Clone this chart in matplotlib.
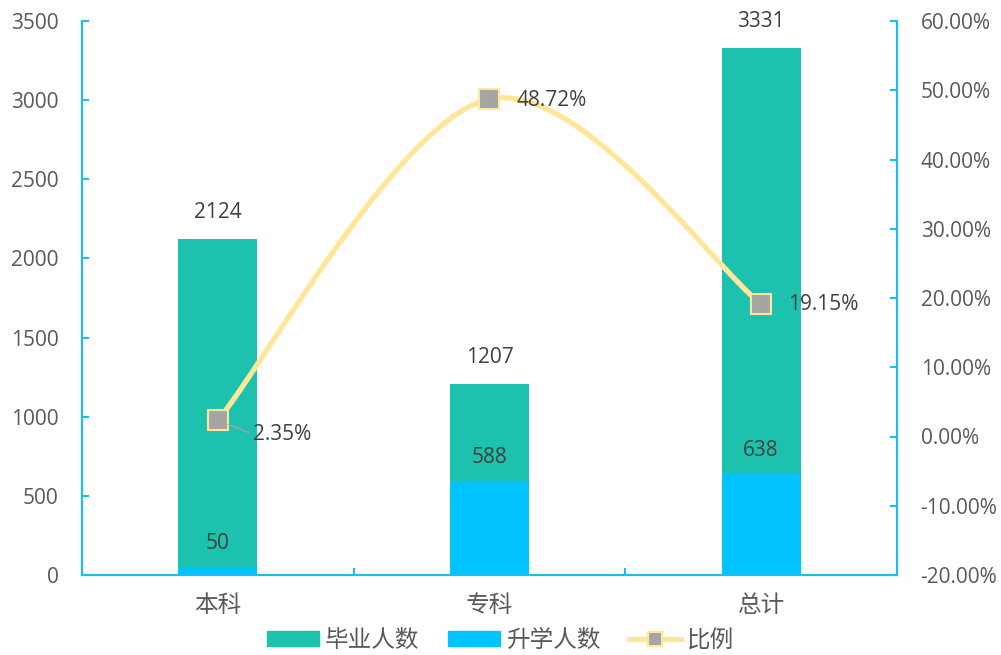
import matplotlib.pyplot as plt
from matplotlib.patches import Patch
from matplotlib.lines import Line2D
from matplotlib.ticker import FuncFormatter
import numpy as np

plt.rcParams['font.family'] = ['Open Sans', 'Noto Sans CJK SC', 'DejaVu Sans']

categories = ['本科', '专科', '总计']
graduates = [2124, 1207, 3331]
further_study = [50, 588, 638]
ratio = [2.35, 48.72, 19.15]

teal = '#1DC2AF'
blue = '#00C3FF'
line_color = '#FFE699'
marker_color = '#A5A5A5'
axis_color = '#19C0EE'
tick_text = '#595959'
label_text = '#404040'

fig = plt.figure(figsize=(10.01, 6.55), dpi=100)
ax = fig.add_axes([82 / 1001, 80 / 655, 815 / 1001, 554 / 655])
ax2 = ax.twinx()

x = np.arange(len(categories))
w = 0.29
ax.bar(x, graduates, w, color=teal, zorder=2)
ax.bar(x, further_study, w, color=blue, zorder=3)

ax.set_xlim(-0.5, 2.5)
ax.set_ylim(0, 3500)
ax.set_yticks(range(0, 3501, 500))
ax2.set_ylim(-20, 60)
ax2.set_yticks(range(-20, 61, 10))
ax2.yaxis.set_major_formatter(FuncFormatter(lambda v, p: f'{v:.2f}%'))

ax.set_xticks(x)
ax.set_xticklabels(categories, fontsize=17, color=tick_text)
ax.set_xticks([0.5, 1.5], minor=True)
ax.tick_params(axis='x', which='major', length=0, pad=14)
ax.tick_params(axis='x', which='minor', length=5, direction='in', color=axis_color, width=1.5)
ax.tick_params(axis='y', length=5, direction='in', color=axis_color, width=1.5,
               labelsize=15, labelcolor=tick_text, pad=17)
ax2.tick_params(axis='y', length=5, direction='in', color=axis_color, width=1.5,
                labelsize=15, labelcolor=tick_text, pad=17)

for a in (ax, ax2):
    a.spines['top'].set_visible(False)
    for s in ('left', 'right', 'bottom'):
        a.spines[s].set_color(axis_color)
        a.spines[s].set_linewidth(1.5)

# bar labels
for xi, g, f in zip(x, graduates, further_study):
    ax.annotate(str(g), (xi, g), xytext=(0, 26), textcoords='offset pixels',
                ha='center', va='center', fontsize=15, color=label_text, zorder=5)
    ax.annotate(str(f), (xi, f), xytext=(0, 24), textcoords='offset pixels',
                ha='center', va='center', fontsize=15, color=label_text, zorder=5)

# smooth line (Bezier through the points, like Excel's smoothing)
px = list(x.astype(float))
py = list(ratio)
cx, cy = [], []
n = len(px)
for i in range(n - 1):
    p0 = (px[max(i - 1, 0)], py[max(i - 1, 0)])
    p1 = (px[i], py[i])
    p2 = (px[i + 1], py[i + 1])
    p3 = (px[min(i + 2, n - 1)], py[min(i + 2, n - 1)])
    c1 = (p1[0] + (p2[0] - p0[0]) / 6, p1[1] + (p2[1] - p0[1]) / 6)
    c2 = (p2[0] - (p3[0] - p1[0]) / 6, p2[1] - (p3[1] - p1[1]) / 6)
    t = np.linspace(0, 1, 60)
    bx = (1 - t) ** 3 * p1[0] + 3 * (1 - t) ** 2 * t * c1[0] + 3 * (1 - t) * t ** 2 * c2[0] + t ** 3 * p2[0]
    by = (1 - t) ** 3 * p1[1] + 3 * (1 - t) ** 2 * t * c1[1] + 3 * (1 - t) * t ** 2 * c2[1] + t ** 3 * p2[1]
    cx.extend(bx)
    cy.extend(by)
ax2.plot(cx, cy, color=line_color, lw=3.8, solid_capstyle='round', zorder=4)
ax2.plot(x, ratio, ls='none', marker='s', ms=14, mfc=marker_color, mec=line_color, mew=1.5, zorder=5)

offsets = [(35, -14), (27, -1), (27, -1)]
for xi, r, off in zip(x, ratio, offsets):
    if off[1] < -5:
        ax2.annotate(f'{r:.2f}%', (xi, r), xytext=off, textcoords='offset pixels',
                     ha='left', va='center', fontsize=15, color=label_text, zorder=6,
                     arrowprops=dict(arrowstyle='-', color='#A5A5A5', lw=1,
                                     shrinkA=1, shrinkB=8, relpos=(0, 0.5)))
    else:
        ax2.annotate(f'{r:.2f}%', (xi, r), xytext=off, textcoords='offset pixels',
                     ha='left', va='center', fontsize=15, color=label_text, zorder=6)

handles = [Patch(color=teal), Patch(color=blue),
           Line2D([], [], color=line_color, lw=3.8, marker='s', ms=10,
                  mfc=marker_color, mec=line_color, mew=1.5)]
fig.legend(handles, ['毕业人数', '升学人数', '比例'], loc='center',
           bbox_to_anchor=(0.5, 0.021), ncol=3, frameon=False, fontsize=17,
           labelcolor=tick_text, handlelength=2.2, handleheight=0.6,
           columnspacing=1.2, handletextpad=0.25)

fig.savefig('out.png', dpi=100)
